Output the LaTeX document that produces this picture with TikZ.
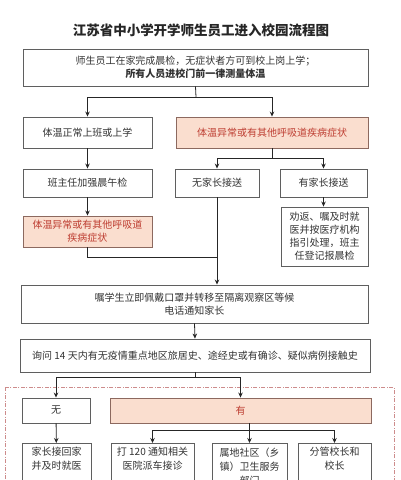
\documentclass[tikz,border=0pt]{standalone}
\usepackage{fontspec}
\setmainfont{Noto Sans CJK SC}
\usetikzlibrary{arrows.meta}
\definecolor{boxline}{RGB}{95,95,95}
\definecolor{warnfill}{RGB}{250,222,207}
\definecolor{warnline}{RGB}{140,105,95}
\definecolor{warntext}{RGB}{190,62,50}
\definecolor{frameline}{RGB}{205,140,140}

\begin{document}
\begin{tikzpicture}[x=1pt, y=-1pt, >={Stealth[length=5pt, width=4.5pt]},
  box/.style={draw=boxline, fill=white, line width=0.9pt, align=center,
    inner sep=2pt, text=black!80, font=\fontsize{10}{13}\selectfont},
  warn/.style={box, draw=warnline, fill=warnfill, text=warntext},
  link/.style={black!85, line width=0.8pt}]
  \useasboundingbox (0,0) rectangle (400,480);
  \clip (0,0) rectangle (400,480);
  \fill[white] (0,0) rectangle (400,480);

  % Title and entry check
  \node[text=black!85, font=\fontsize{13.5}{15}\selectfont\bfseries] (title) at (201,30)
    {江苏省中小学开学师生员工进入校园流程图};
  \node[box, minimum width=345pt, minimum height=37pt] (home) at (195.5,67.5)
    {师生员工在家完成晨检，无症状者方可到校上岗上学；\\ \textbf{所有人员进校门前一律测量体温}};

  % Temperature branch
  \node[box, minimum width=129pt, minimum height=31pt] (normal) at (87.5,132.5) {体温正常上班或上学};
  \node[warn, minimum width=192pt, minimum height=31pt] (abn) at (272,132.5) {体温异常或有其他呼吸道疾病症状};
  \node[box, minimum width=129pt, minimum height=28pt] (morning) at (87.5,183) {班主任加强晨午检};
  \node[warn, minimum width=129pt, minimum height=31pt] (abn2) at (87.5,231.5)
    {体温异常或有其他呼吸道\\疾病症状};
  \node[box, minimum width=84pt, minimum height=28pt] (nopar) at (217,183) {无家长接送};
  \node[box, minimum width=87pt, minimum height=28pt] (par) at (323.5,183) {有家长接送};
  \node[box, minimum width=87pt, minimum height=59pt] (advice) at (324.5,236.5)
    {劝返、嘱及时就\\医并按医疗机构\\指引处理，班主\\任登记报晨检};

  % Isolation and inquiry
  \node[box, minimum width=347pt, minimum height=38pt] (isolate) at (194.5,304)
    {嘱学生立即佩戴口罩并转移至隔离观察区等候\\电话通知家长};
  \node[box, minimum width=350pt, minimum height=33pt] (ask) at (195,355.5)
    {询问 14 天内有无疫情重点地区旅居史、途经史或有确诊、疑似病例接触史};

  % Travel / contact history
  \draw[frameline, line width=0.8pt, dash pattern=on 4pt off 1.5pt on 1pt off 1.5pt]
    (5,387) rectangle (394,520);
  \node[box, minimum width=68pt, minimum height=25pt] (no) at (56,410.5) {无};
  \node[warn, minimum width=261pt, minimum height=25pt] (yes) at (240.5,410.5) {有};
  \node[box, anchor=north, minimum width=69pt, inner ysep=4pt, font=\fontsize{10}{14}\selectfont]
    (homecare) at (56.5,443) {家长接回家\\并及时就医\\~};
  \node[box, anchor=north, minimum width=83pt, inner ysep=4pt, font=\fontsize{10}{14}\selectfont]
    (call) at (152.5,443) {打 120 通知相关\\医院派车接诊\\~};
  \node[box, anchor=north, minimum width=75pt, inner ysep=4pt, font=\fontsize{10}{14}\selectfont]
    (comm) at (249.5,443) {属地社区（乡\\镇）卫生服务\\部门};
  \node[box, anchor=north, minimum width=73pt, inner ysep=4pt, font=\fontsize{10}{14}\selectfont]
    (head) at (334.5,443) {分管校长和\\校长\\~};

  % connectors
  \coordinate (j1) at (196,97);
  \draw[link] (home.south) -- (j1);
  \draw[link, ->] (j1) -| (normal.north);
  \draw[link, ->] (j1) -| (abn.north);
  \draw[link, ->] (normal) -- (morning);
  \draw[link, ->] (morning) -- (abn2);
  \coordinate (j2) at (272,158);
  \draw[link] (abn.south) -- (j2);
  \draw[link, ->] (j2) -| (nopar.north);
  \draw[link, ->] (j2) -| (par.north);
  \draw[link, ->] (par.south) -- (par.south |- advice.north);
  \coordinate (j3) at (217,257);
  \draw[link] (abn2.south) |- (j3);
  \draw[link, ->] (nopar.south) -- (nopar.south |- isolate.north);
  \draw[link, ->] (isolate.south) -- (ask.north);
  \coordinate (j4) at (195,377);
  \draw[link] (ask.south) -- (j4);
  \draw[link, ->] (j4) -| (no.north);
  \draw[link, ->] (j4) -| (yes.north);
  \draw[link, ->] (no) -- (homecare);
  \coordinate (j5) at (249.5,430);
  \draw[link] (j5 |- yes.south) -- (j5);
  \draw[link, ->] (j5) -| (call.north);
  \draw[link, ->] (j5) -- (comm.north);
  \draw[link, ->] (j5) -| (head.north);
\end{tikzpicture}
\end{document}
